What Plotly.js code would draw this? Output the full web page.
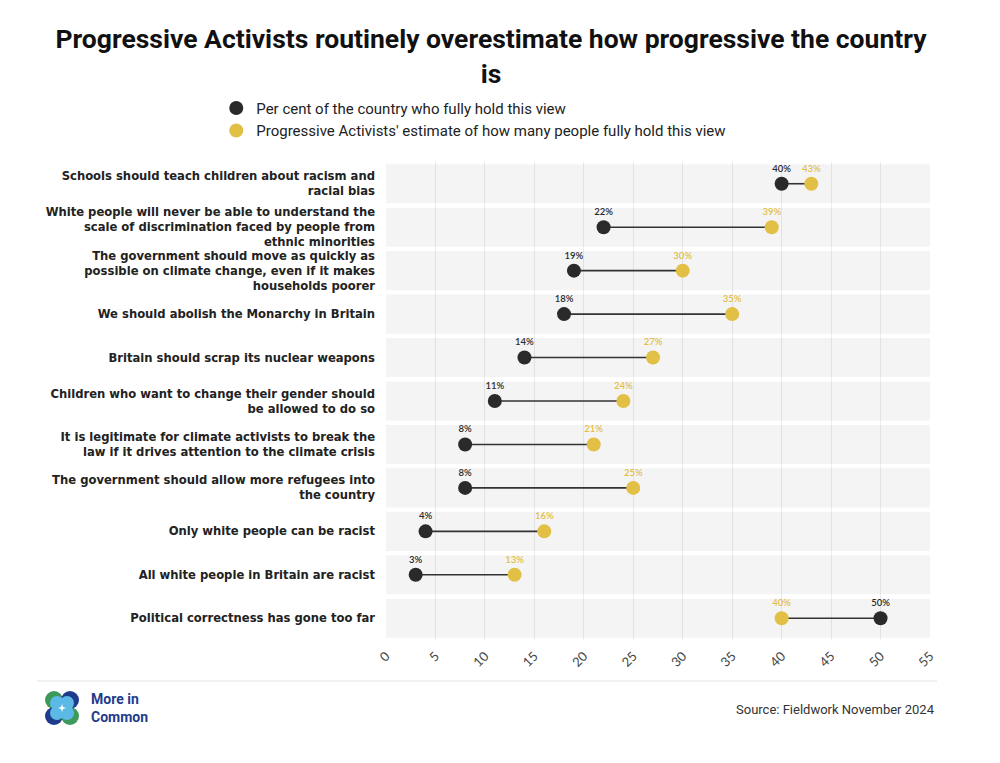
<!DOCTYPE html>
<html>
<head>
<meta charset="utf-8">
<script src="https://cdn.plot.ly/plotly-3.0.1.min.js"></script>
<style>html,body{margin:0;padding:0;background:#fff;}#chart{width:1000px;height:763px;}</style>
</head>
<body>
<div id="chart"></div>
<script>
// ---- Data ----
const categories = [
  "Schools should teach children about racism and racial bias",
  "White people will never be able to understand the scale of discrimination faced by people from ethnic minorities",
  "The government should move as quickly as possible on climate change, even if it makes households poorer",
  "We should abolish the Monarchy in Britain",
  "Britain should scrap its nuclear weapons",
  "Children who want to change their gender should be allowed to do so",
  "It is legitimate for climate activists to break the law if it drives attention to the climate crisis",
  "The government should allow more refugees into the country",
  "Only white people can be racist",
  "All white people in Britain are racist",
  "Political correctness has gone too far"
];
const tickLabels = [
  "Schools should teach children about racism and<br>racial bias",
  "White people will never be able to understand the<br>scale of discrimination faced by people from<br>ethnic minorities",
  "The government should move as quickly as<br>possible on climate change, even if it makes<br>households poorer",
  "We should abolish the Monarchy in Britain",
  "Britain should scrap its nuclear weapons",
  "Children who want to change their gender should<br>be allowed to do so",
  "It is legitimate for climate activists to break the<br>law if it drives attention to the climate crisis",
  "The government should allow more refugees into<br>the country",
  "Only white people can be racist",
  "All white people in Britain are racist",
  "Political correctness has gone too far"
];
const countryPct = [40, 22, 19, 18, 14, 11, 8, 8, 4, 3, 50];
const activistEstimate = [43, 39, 30, 35, 27, 24, 21, 25, 16, 13, 40];
const xMax = 55;
const seriesNames = [
  "Per cent of the country who fully hold this view",
  "Progressive Activists' estimate of how many people fully hold this view"
];
const sourceText = "Source: Fieldwork November 2024";

// ---- Styles ----
const BLACK = "#2a2a2a";
const GOLD = "#e2bf45";
const MSIZE = 14;

// connector line (built from data with gaps)
const lx = [], ly = [];
categories.forEach((c, i) => {
  lx.push(countryPct[i], activistEstimate[i], null);
  ly.push(c, c, null);
});

const traces = [
  {
    type: "bar", orientation: "h",
    y: categories, x: categories.map(() => xMax),
    width: 0.9,
    marker: {color: "rgba(0,0,0,0.045)", line: {width: 0}},
    hoverinfo: "skip", showlegend: false
  },
  {
    type: "scatter", mode: "lines",
    x: lx, y: ly, connectgaps: false,
    line: {color: "#333333", width: 1.6},
    hoverinfo: "skip", showlegend: false
  },
  {
    type: "scatter", mode: "markers",
    name: seriesNames[0],
    x: countryPct, y: categories,
    marker: {color: BLACK, size: MSIZE, line: {width: 0}}
  },
  {
    type: "scatter", mode: "markers",
    name: seriesNames[1],
    x: activistEstimate, y: categories,
    marker: {color: GOLD, size: MSIZE, line: {width: 0}}
  },
  {
    type: "scatter", mode: "markers+text",
    x: countryPct, y: categories,
    marker: {size: MSIZE, opacity: 0},
    text: countryPct.map(v => v + "%"),
    textposition: "top center",
    textfont: {family: "Lato", size: 9.5, color: BLACK, weight: 600},
    hoverinfo: "skip", showlegend: false
  },
  {
    type: "scatter", mode: "markers+text",
    x: activistEstimate, y: categories,
    marker: {size: MSIZE, opacity: 0},
    text: activistEstimate.map(v => v + "%"),
    textposition: "top center",
    textfont: {family: "Lato", size: 9.5, color: GOLD, weight: 600},
    hoverinfo: "skip", showlegend: false
  }
];

// logo geometry (pixel offsets from anchor)
const LX = (62 - 386) / 544, LY = (640 - 708) / 478;
function circ(cx, cy, r, color) {
  return {
    type: "circle", xref: "paper", yref: "paper",
    xsizemode: "pixel", ysizemode: "pixel",
    xanchor: LX, yanchor: LY,
    x0: cx - r, x1: cx + r, y0: cy - r, y1: cy + r,
    fillcolor: color, line: {width: 0}, layer: "above"
  };
}
const GREEN = "#3e9a5c", NAVY = "#1f3b8c", LIGHT = "#5cb9e6";

const layout = {
  width: 1000, height: 763,
  paper_bgcolor: "#ffffff", plot_bgcolor: "#ffffff",
  margin: {l: 386, r: 70, t: 162, b: 123, autoexpand: false},
  font: {family: "Lato, 'Open Sans', sans-serif", color: "#222"},
  title: {
    text: "Progressive Activists routinely overestimate how progressive the country<br>is",
    font: {family: "Roboto", size: 26.5, weight: 700, color: "#111"},
    x: 0.491, xanchor: "center", y: 0.937, yanchor: "top"
  },
  showlegend: true,
  legend: {
    x: -0.312, xanchor: "left", y: 1.147, yanchor: "top",
    orientation: "v",
    font: {family: "Roboto", size: 15, color: "#222"},
    itemwidth: 30, tracegroupgap: 0,
    bgcolor: "rgba(0,0,0,0)"
  },
  barmode: "overlay",
  xaxis: {
    range: [0, xMax], dtick: 5, tick0: 0,
    showgrid: true, gridcolor: "#ececec", gridwidth: 1,
    zeroline: false, showline: false,
    tickangle: -45,
    tickfont: {family: "Lato", size: 13, color: "#444"},
    ticks: "", ticklabelstandoff: 5, fixedrange: true, automargin: false
  },
  yaxis: {
    type: "category",
    categoryorder: "array", categoryarray: categories,
    range: [categories.length - 0.5, -0.5],
    tickvals: categories, ticktext: tickLabels,
    tickfont: {family: "DejaVu Sans", size: 11.6, weight: 700, color: "#222"},
    showgrid: false, zeroline: false, showline: false,
    ticks: "", ticklen: 0, ticklabelstandoff: 10, automargin: false
  },
  shapes: [
    {
      type: "line", xref: "paper", yref: "paper",
      x0: (37 - 386) / 544, x1: (937 - 386) / 544,
      y0: (640 - 681) / 478, y1: (640 - 681) / 478,
      line: {color: "#e3e3e3", width: 1}
    },
    circ(-8, 8, 9, GREEN),
    circ(8, 8, 9, NAVY),
    circ(-8, -8, 9, NAVY),
    circ(8, -8, 9, GREEN),
    circ(-5, 5, 7, LIGHT),
    circ(5, 5, 7, LIGHT),
    circ(-5, -5, 7, LIGHT),
    circ(5, -5, 7, LIGHT),
    {
      type: "path", xref: "paper", yref: "paper",
      xsizemode: "pixel", ysizemode: "pixel",
      xanchor: LX, yanchor: LY,
      path: "M0,4 L1,1 L4,0 L1,-1 L0,-4 L-1,-1 L-4,0 L-1,1 Z",
      fillcolor: "#ffffff", line: {width: 0}, layer: "above"
    }
  ],
  annotations: [
    {
      text: "More in<br>Common", xref: "paper", yref: "paper",
      x: (89 - 386) / 544, y: LY, xanchor: "left", yanchor: "middle",
      align: "left", showarrow: false,
      font: {family: "Roboto", size: 14, weight: 700, color: NAVY}
    },
    {
      text: sourceText, xref: "paper", yref: "paper",
      x: (937 - 386) / 544, y: (640 - 709) / 478, xanchor: "right", yanchor: "middle",
      showarrow: false,
      font: {family: "Roboto", size: 13, color: "#333"}
    }
  ]
};

Plotly.newPlot("chart", traces, layout, {displayModeBar: false, responsive: false});
</script>
</body>
</html>
